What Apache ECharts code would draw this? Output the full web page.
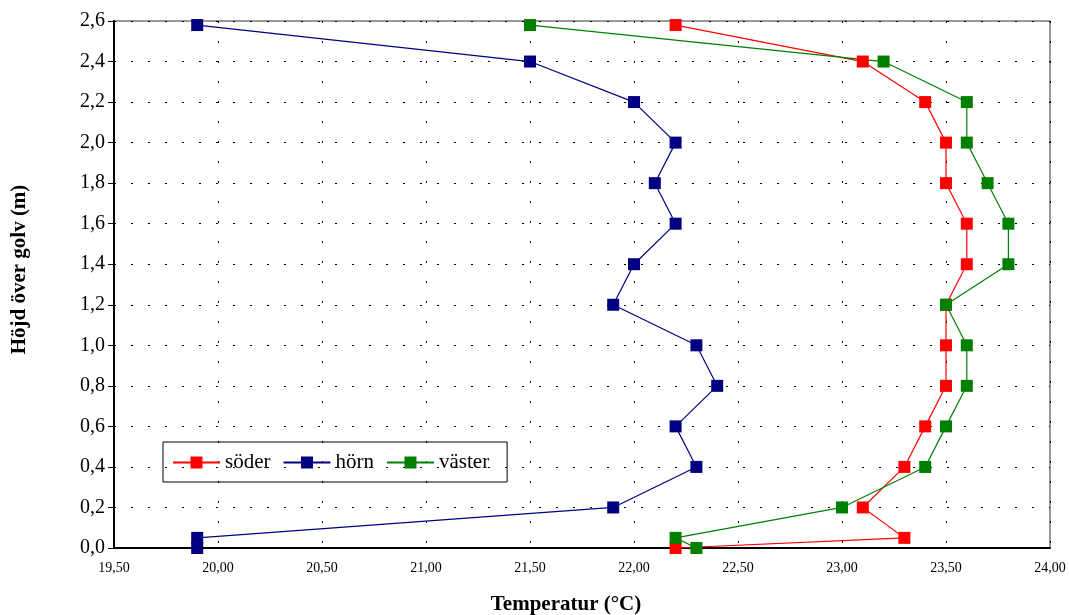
<!DOCTYPE html>
<html>
<head>
<meta charset="utf-8">
<script src="https://cdn.jsdelivr.net/npm/echarts@6/dist/echarts.min.js"></script>
<style>
html,body{margin:0;padding:0;background:#fff;}
#chart{width:1069px;height:615px;}
</style>
</head>
<body>
<div id="chart"></div>
<script>
// höjd över golv (m), från golv och uppåt
var heights = [0.0, 0.05, 0.2, 0.4, 0.6, 0.8, 1.0, 1.2, 1.4, 1.6, 1.8, 2.0, 2.2, 2.4, 2.58];
var soder  = [22.2, 23.3, 23.1, 23.3, 23.4, 23.5, 23.5, 23.5, 23.6, 23.6, 23.5, 23.5, 23.4, 23.1, 22.2];
var horn   = [19.9, 19.9, 21.9, 22.3, 22.2, 22.4, 22.3, 21.9, 22.0, 22.2, 22.1, 22.2, 22.0, 21.5, 19.9];
var vaster = [22.3, 22.2, 23.0, 23.4, 23.5, 23.6, 23.6, 23.5, 23.8, 23.8, 23.7, 23.6, 23.6, 23.2, 21.5];
var seriesNames = ['söder', 'hörn', 'väster'];
var colors = ['#FF0000', '#000080', '#008000'];

function pairs(temps){
    return temps.map(function(t, i){ return [t, heights[i]]; });
}

var chart = echarts.init(document.getElementById('chart'));
var font = '"Liberation Serif", "Times New Roman", serif';

var option = {
    animation: false,
    textStyle: { fontFamily: font },
    grid: {
        left: 114, right: 19, top: 21, bottom: 67,
        outerBoundsMode: 'none',
        containLabel: false,
        show: true,
        borderColor: '#333',
        borderWidth: 1
    },
    legend: {
        data: seriesNames,
        left: 163,
        top: 442,
        orient: 'horizontal',
        borderColor: '#000',
        borderWidth: 1,
        padding: [10, 18, 9, 9],
        itemGap: 12,
        itemWidth: 47,
        itemHeight: 15,
        textStyle: { fontFamily: font, fontSize: 21, color: '#000' }
    },
    xAxis: {
        type: 'value',
        min: 19.5,
        max: 24.0,
        interval: 0.5,
        name: 'Temperatur (°C)',
        nameLocation: 'middle',
        nameGap: 46,
        nameTextStyle: { fontFamily: font, fontSize: 21, fontWeight: 'bold', color: '#000', padding: [0, 32, 0, 0] },
        axisLine: { lineStyle: { color: '#000', width: 2 } },
        axisTick: { show: false },
        axisLabel: {
            fontSize: 14,
            color: '#000',
            margin: 13,
            formatter: function(v){ return v.toFixed(2).replace('.', ','); }
        },
        splitLine: { show: true, lineStyle: { color: '#000', type: [2, 18], width: 1 } }
    },
    yAxis: {
        type: 'value',
        min: 0,
        max: 2.6,
        interval: 0.2,
        name: 'Höjd över golv (m)',
        nameLocation: 'middle',
        nameGap: 84,
        nameRotate: 90,
        nameTextStyle: { fontFamily: font, fontSize: 21, fontWeight: 'bold', color: '#000', padding: [0, 0, 0, 30] },
        axisLine: { show: true, lineStyle: { color: '#000', width: 2 } },
        axisTick: { show: true, length: 6, lineStyle: { color: '#000' } },
        axisLabel: {
            fontSize: 20,
            color: '#000',
            margin: 9,
            formatter: function(v){ return v.toFixed(1).replace('.', ','); }
        },
        splitLine: { show: true, lineStyle: { color: '#000', type: [2, 15], width: 1 } }
    },
    series: [soder, horn, vaster].map(function(temps, i){
        return {
            name: seriesNames[i],
            type: 'line',
            data: pairs(temps),
            symbol: 'rect',
            symbolSize: 12,
            clip: false,
            itemStyle: { color: colors[i] },
            lineStyle: { color: colors[i], width: 1.2 }
        };
    })
};
chart.setOption(option);
</script>
</body>
</html>
